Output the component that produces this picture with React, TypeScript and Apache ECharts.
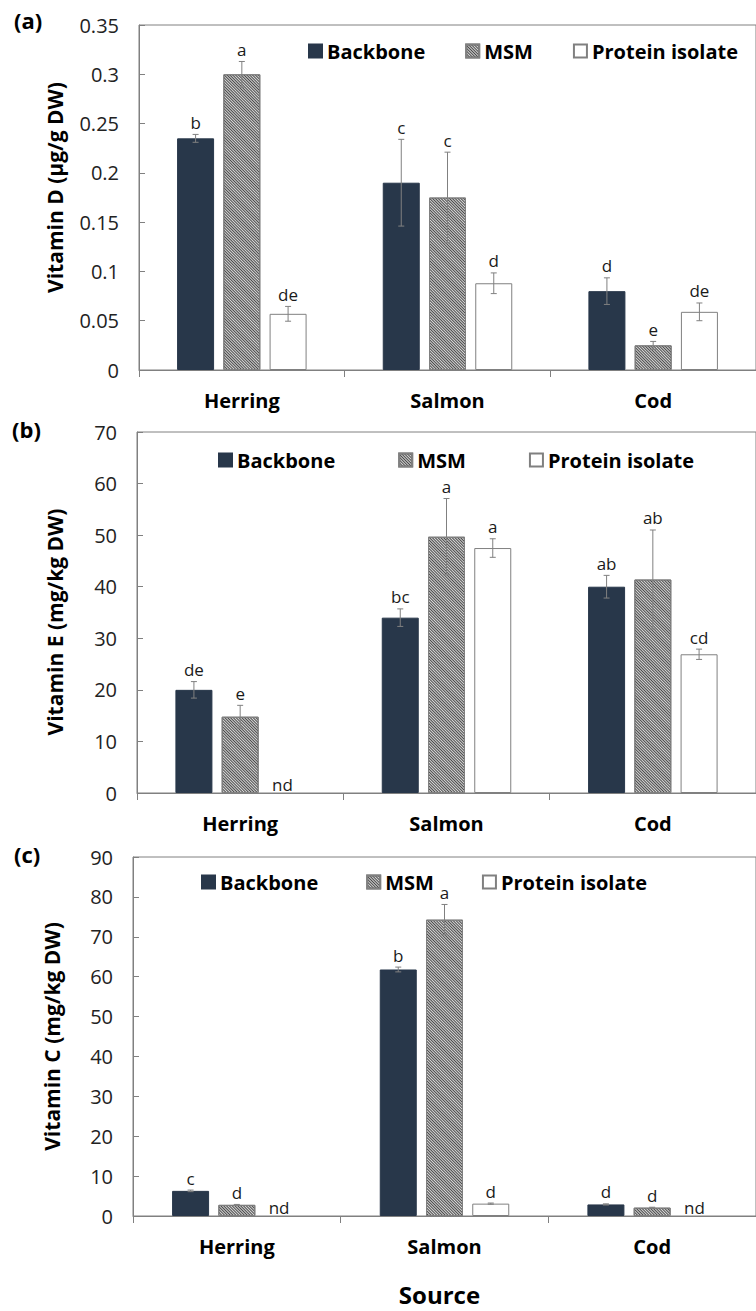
import React, { useEffect, useRef } from 'react';
import * as echarts from 'echarts';

// ---------- data ----------
const categories = ['Herring', 'Salmon', 'Cod'];
const seriesNames = ['Backbone', 'MSM', 'Protein isolate'];

// (a) Vitamin D (µg/g DW)
const vitDBackbone = [0.235, 0.19, 0.08];
const vitDBackboneErr = [0.004, 0.044, 0.0135];
const vitDBackboneLetters = ['b', 'c', 'd'];
const vitDMSM = [0.3, 0.175, 0.025];
const vitDMSMErr = [0.013, 0.046, 0.004];
const vitDMSMLetters = ['a', 'c', 'e'];
const vitDProtein = [0.057, 0.088, 0.059];
const vitDProteinErr = [0.0075, 0.0105, 0.009];
const vitDProteinLetters = ['de', 'd', 'de'];

// (b) Vitamin E (mg/kg DW)
const vitEBackbone = [20.0, 34.0, 40.0];
const vitEBackboneErr = [1.6, 1.7, 2.2];
const vitEBackboneLetters = ['de', 'bc', 'ab'];
const vitEMSM = [14.8, 49.7, 41.4];
const vitEMSMErr = [2.2, 7.4, 9.6];
const vitEMSMLetters = ['e', 'a', 'ab'];
const vitEProtein = [null, 47.5, 26.9];
const vitEProteinErr = [0, 1.8, 1.0];
const vitEProteinLetters = ['nd', 'a', 'cd'];

// (c) Vitamin C (mg/kg DW)
const vitCBackbone = [6.3, 61.8, 2.9];
const vitCBackboneErr = [0.2, 0.6, 0.15];
const vitCBackboneLetters = ['c', 'b', 'd'];
const vitCMSM = [2.8, 74.3, 2.1];
const vitCMSMErr = [0.1, 3.8, 0.1];
const vitCMSMLetters = ['d', 'a', 'd'];
const vitCProtein = [null, 3.1, null];
const vitCProteinErr = [0, 0.15, 0];
const vitCProteinLetters = ['nd', 'd', 'nd'];

// y-axis scales
const yMaxD = 0.35, yIntD = 0.05;
const yMaxE = 70, yIntE = 10;
const yMaxC = 90, yIntC = 10;

const panelLabels = ['(a)', '(b)', '(c)'];
const yTitles = ['Vitamin D (µg/g DW)', 'Vitamin E (mg/kg DW)', 'Vitamin C (mg/kg DW)'];
const xTitle = 'Source';

// ---------- styles ----------
const FONT = 'Open Sans';
const AXIS_GRAY = '#808080';
const BACKBONE_COLOR = '#28374a';
const BAR_WIDTH = 37;
const BAR_OFFSETS = [-46.25, 0, 46.25];

const panels = [
  {
    grid: { left: 139, top: 25, width: 630, height: 345 },
    max: yMaxD, interval: yIntD,
    values: [vitDBackbone, vitDMSM, vitDProtein],
    errs: [vitDBackboneErr, vitDMSMErr, vitDProteinErr],
    letters: [vitDBackboneLetters, vitDMSMLetters, vitDProteinLetters],
    legend: { left: 303, top: 36, itemGap: 40 },
    nameGap: 74, namePad: [0, 0, 0, 20],
    label: { x: 14, y: 23 },
  },
  {
    grid: { left: 137, top: 432, width: 625, height: 361 },
    max: yMaxE, interval: yIntE,
    values: [vitEBackbone, vitEMSM, vitEProtein],
    errs: [vitEBackboneErr, vitEMSMErr, vitEProteinErr],
    letters: [vitEBackboneLetters, vitEMSMLetters, vitEProteinLetters],
    legend: { left: 213, top: 445, itemGap: 63 },
    nameGap: 72, namePad: [0, 19, 0, 0],
    label: { x: 12, y: 432 },
  },
  {
    grid: { left: 133, top: 857, width: 636, height: 359 },
    max: yMaxC, interval: yIntC,
    values: [vitCBackbone, vitCMSM, vitCProtein],
    errs: [vitCBackboneErr, vitCMSMErr, vitCProteinErr],
    letters: [vitCBackboneLetters, vitCMSMLetters, vitCProteinLetters],
    legend: { left: 196, top: 867, itemGap: 48 },
    nameGap: 71, namePad: [0, 0, 0, 0],
    label: { x: 14, y: 857 },
  },
];

const seriesStyles: any[] = [
  { color: BACKBONE_COLOR, borderColor: BACKBONE_COLOR, borderWidth: 1 },
  {
    color: '#d8d8d8',
    borderColor: AXIS_GRAY,
    borderWidth: 1,
    decal: {
      symbol: 'rect',
      symbolSize: 1,
      color: '#4a4a4a',
      dashArrayX: [1, 0],
      dashArrayY: [1, 1],
      rotation: Math.PI / 4,
    },
  },
  { color: '#ffffff', borderColor: AXIS_GRAY, borderWidth: 1 },
];

function errorSeries(g: number, si: number, values: (number | null)[], errs: number[], letters: string[]) {
  return {
    type: 'custom',
    name: 'err-' + g + '-' + si,
    xAxisIndex: g,
    yAxisIndex: g,
    z: 5,
    silent: true,
    data: values.map((v, i) => [i, v == null ? 0 : v, errs[i]]),
    renderItem: (params: any, api: any) => {
      const i = params.dataIndex;
      const v = values[i];
      const e = errs[i];
      const base = api.coord([i, 0]);
      const x = base[0] + BAR_OFFSETS[si];
      const children: any[] = [];
      const lineStyle = { stroke: AXIS_GRAY, lineWidth: 1 };
      const textStyle = { fill: '#1a1a1a', font: `17px "${FONT}"`, textAlign: 'center', textVerticalAlign: 'middle' };
      if (v == null) {
        children.push({ type: 'text', x: x - 4, y: base[1] - 9, style: { ...textStyle, text: letters[i] } });
      } else {
        const hi = api.coord([i, v + e])[1];
        const lo = api.coord([i, v - e])[1];
        children.push({ type: 'line', shape: { x1: x, y1: hi, x2: x, y2: lo }, style: lineStyle });
        children.push({ type: 'line', shape: { x1: x - 3, y1: hi, x2: x + 3, y2: hi }, style: lineStyle });
        children.push({ type: 'line', shape: { x1: x - 3, y1: lo, x2: x + 3, y2: lo }, style: lineStyle });
        children.push({ type: 'text', x: x, y: hi - 12, style: { ...textStyle, text: letters[i] } });
      }
      return { type: 'group', children };
    },
  };
}

function buildOption() {
  const grid: any[] = [];
  const xAxis: any[] = [];
  const yAxis: any[] = [];
  const legend: any[] = [];
  const series: any[] = [];
  const graphic: any[] = [];

  panels.forEach((p, g) => {
    grid.push({
      ...p.grid,
      show: true,
      borderColor: AXIS_GRAY,
      borderWidth: 1,
      backgroundColor: 'transparent',
      containLabel: false,
    });
    xAxis.push({
      type: 'category',
      gridIndex: g,
      data: categories,
      boundaryGap: true,
      axisLine: { show: true, lineStyle: { color: AXIS_GRAY, width: 1 } },
      axisTick: { show: true, inside: false, length: 7, lineStyle: { color: AXIS_GRAY } },
      axisLabel: { fontFamily: FONT, fontWeight: 'bold', fontSize: 20, color: '#000', margin: 20 },
      splitLine: { show: false },
      ...(g === 2
        ? {
            name: xTitle,
            nameLocation: 'middle',
            nameGap: 66,
            nameTextStyle: { fontFamily: FONT, fontWeight: 'bold', fontSize: 24, color: '#000', padding: [0, 10, 0, 0] },
          }
        : {}),
    });
    yAxis.push({
      type: 'value',
      gridIndex: g,
      min: 0,
      max: p.max,
      interval: p.interval,
      name: yTitles[g],
      nameLocation: 'middle',
      nameRotate: 90,
      nameGap: p.nameGap,
      nameTextStyle: { fontFamily: FONT, fontWeight: 'bold', fontSize: 21, color: '#000', padding: p.namePad },
      axisLine: { show: true, lineStyle: { color: AXIS_GRAY, width: 1 } },
      axisTick: { show: true, inside: true, length: 6, lineStyle: { color: AXIS_GRAY } },
      axisLabel: { fontFamily: FONT, fontSize: 20, color: '#222', margin: 20 },
      splitLine: { show: false },
    });
    legend.push({
      ...p.legend,
      orient: 'horizontal',
      data: seriesNames,
      icon: 'rect',
      itemWidth: 13,
      itemHeight: 13,
      selectedMode: false,
      textStyle: { fontFamily: FONT, fontWeight: 'bold', fontSize: 20, color: '#000' },
    });
    seriesNames.forEach((name, si) => {
      series.push({
        type: 'bar',
        name,
        xAxisIndex: g,
        yAxisIndex: g,
        barWidth: BAR_WIDTH,
        barGap: '25%',
        data: p.values[si].map((v) => (v == null ? '-' : v)),
        itemStyle: seriesStyles[si],
        emphasis: { disabled: true },
      });
    });
    seriesNames.forEach((_, si) => {
      series.push(errorSeries(g, si, p.values[si], p.errs[si], p.letters[si]));
    });
    graphic.push({
      type: 'text',
      left: p.label.x,
      top: p.label.y - 14,
      style: { text: panelLabels[g], font: `bold 22px "${FONT}"`, fill: '#000' },
    });
  });

  return {
    animation: false,
    grid,
    xAxis,
    yAxis,
    legend,
    series,
    graphic,
  };
}

export default function App() {
  const ref = useRef<HTMLDivElement>(null);
  useEffect(() => {
    if (!ref.current) return;
    const chart = echarts.init(ref.current, undefined, { renderer: 'svg' });
    chart.setOption(buildOption() as any);
    return () => chart.dispose();
  }, []);
  return (
    <div
      ref={ref}
      style={{ position: 'absolute', left: 0, top: 0, width: 756, height: 1311, background: '#fff' }}
    />
  );
}
